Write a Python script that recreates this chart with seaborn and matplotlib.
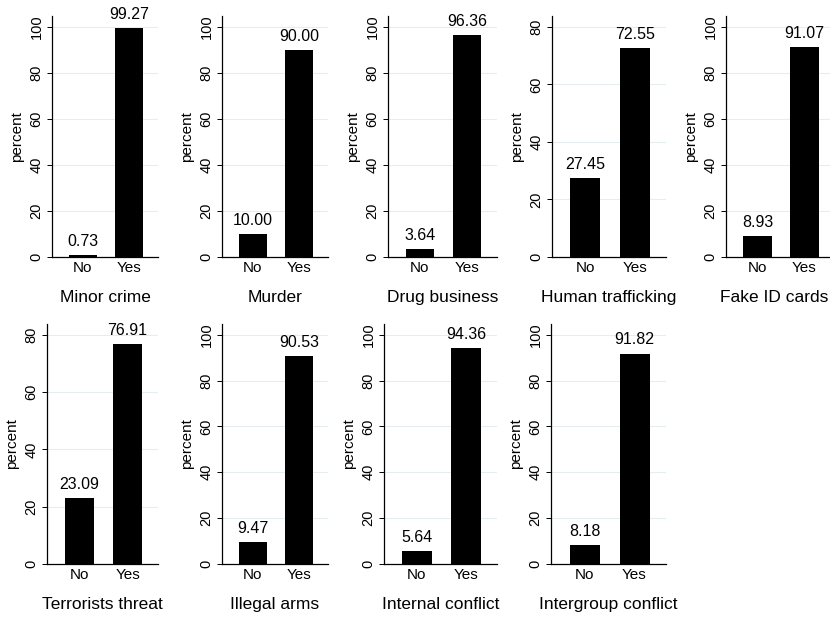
import numpy as np
import pandas as pd
import matplotlib
matplotlib.use("Agg")
import matplotlib.pyplot as plt
import seaborn as sns

# ---- data ----
categories = ["Minor crime", "Murder", "Drug business", "Human trafficking",
              "Fake ID cards", "Terrorists threat", "Illegal arms",
              "Internal conflict", "Intergroup conflict"]
answers = ["No", "Yes"]
no_values = [0.73, 10.00, 3.64, 27.45, 8.93, 23.09, 9.47, 5.64, 8.18]
yes_values = [99.27, 90.00, 96.36, 72.55, 91.07, 76.91, 90.53, 94.36, 91.82]
y_label = "percent"

sns.set_style("white")
plt.rcParams["font.family"] = ["Liberation Sans", "DejaVu Sans"]
plt.rcParams["text.color"] = "black"
plt.rcParams["axes.labelcolor"] = "black"
plt.rcParams["xtick.color"] = "black"
plt.rcParams["ytick.color"] = "black"

W, H = 830, 620
fig = plt.figure(figsize=(W / 100, H / 100), dpi=100)

# panel rectangles in pixels: (left, right, top, bottom)
rects = [
    (52, 158, 16, 257), (222, 328, 16, 257), (388, 497, 16, 257),
    (552, 666, 16, 257), (726, 834, 16, 257),
    (47, 158, 324, 564), (222, 328, 324, 564), (384, 497, 324, 564),
    (551, 666, 324, 564),
]
grid_color = "#e4eef0"

for i, cat in enumerate(categories):
    l, r, t, b = rects[i]
    ax = fig.add_axes([l / W, (H - b) / H, (r - l) / W, (b - t) / H])
    df = pd.DataFrame({"answer": answers, "percent": [no_values[i], yes_values[i]]})
    sns.barplot(data=df, x="answer", y="percent", color="black", width=0.6,
                saturation=1, edgecolor="none", ax=ax)
    vmax = max(no_values[i], yes_values[i])
    top_tick = int(np.ceil(vmax / 20.0) * 20)
    ticks = list(range(0, top_tick + 1, 20))
    ax.set_ylim(0, top_tick * 1.047)
    ax.set_xlim(-0.67, 1.63)
    ax.set_yticks(ticks)
    ax.set_yticklabels([str(v) for v in ticks], rotation=90, va="center",
                       fontsize=10.5)
    for tv in ticks[1:]:
        ax.axhline(tv, color=grid_color, lw=0.8, zorder=0)
    ax.tick_params(axis="y", which="major", left=True, length=3.5, width=0.7,
                   pad=2.5, color="black", labelcolor="black")
    ax.tick_params(axis="x", length=0, pad=3, labelsize=11,
                   labelcolor="black")
    for sp in ["top", "right"]:
        ax.spines[sp].set_visible(False)
    for sp in ["left", "bottom"]:
        ax.spines[sp].set_color("black")
        ax.spines[sp].set_linewidth(0.9)
    ax.set_ylabel(y_label, fontsize=11, labelpad=4, color="black")
    ax.set_xlabel(cat, fontsize=12.5, labelpad=11, color="black")
    if r > W:
        # keep the title inside the figure for the cropped last panel
        ax.xaxis.set_label_coords((774 - l) / (r - l), -0.135)
    for j, v in enumerate([no_values[i], yes_values[i]]):
        ax.annotate(f"{v:.2f}", xy=(j, v), xytext=(0, 6.5),
                    textcoords="offset points", ha="center", va="baseline",
                    fontsize=11.5, color="black")
    ax.set_axisbelow(True)

fig.savefig("out.png", dpi=100, facecolor="white")
